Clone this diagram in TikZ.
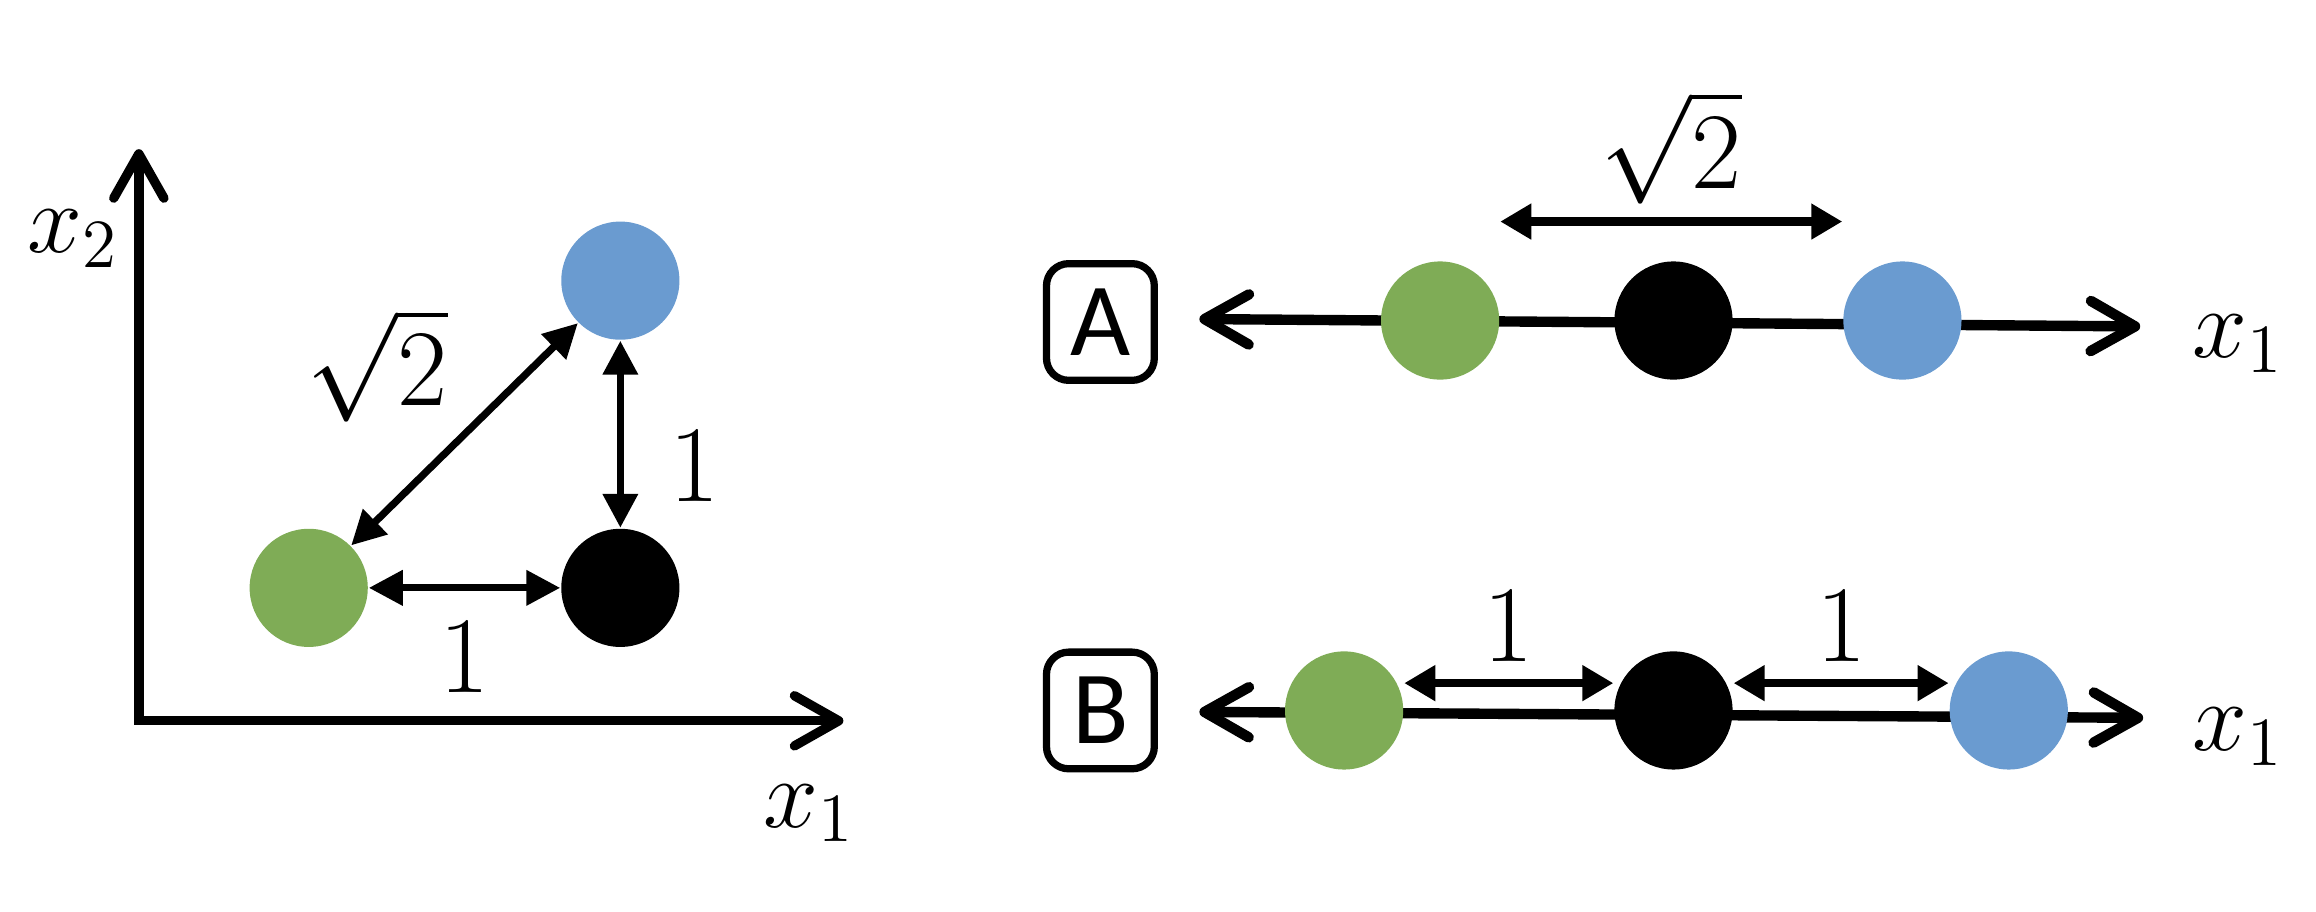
\RequirePackage{fix-cm}
\documentclass[tikz,border=0pt]{standalone}
\usepackage{fontspec}
\usepackage{xcolor}
\usepackage{tikz}
\usetikzlibrary{positioning,arrows.meta,calc}
\newfontfamily\tagfont{Carlito}
\definecolor{dotgreen}{RGB}{127,172,86}
\definecolor{dotblue}{RGB}{106,155,208}

\begin{document}
\begin{tikzpicture}[x=0.1mm,y=-0.1mm,
    dot/.style={circle,minimum size=8mm,inner sep=0pt},
    axisarrow/.style={line width=1.8pt,{Straight Barb[length=3mm,width=3.4mm,round]}-{Straight Barb[length=3mm,width=3.4mm,round]}},
    dist/.style={line width=1.4pt,{Triangle[length=2.3mm,width=2.3mm]}-{Triangle[length=2.3mm,width=2.3mm]}},
    gap/.style={line width=1.6pt,{Triangle[length=2.1mm,width=2.3mm]}-{Triangle[length=2.1mm,width=2.3mm]}},
    num/.style={inner sep=0pt,font=\fontsize{21}{25}\selectfont},
    axlabel/.style={inner sep=0pt,anchor=base west,font=\fontsize{19}{23}\selectfont},
    tag/.style={draw,line width=1.4pt,rounded corners=1.5mm,minimum width=7.3mm,minimum height=7.9mm,inner sep=0pt,font=\tagfont\fontsize{20}{24}\selectfont}]
    \useasboundingbox (0,0) rectangle (1568,617);

    % Plane
    \coordinate (O) at (94,488);
    \coordinate (ytip) at (94,101);
    \coordinate (xtip) at (571,488);
    \draw[axisarrow] (ytip) -- (O) -- (xtip);
    \node[axlabel] (x2) at (18,171) {$x_2$};
    \node[axlabel] (x1) at (516,560) {$x_1$};

    \node[dot,fill=dotblue] (b) at (420,190) {};
    \node[dot,fill=dotgreen] (g) at (209,398) {};
    \node[dot,fill=black] (k) at (420,398) {};

    \draw[dist] (g.east) -- (k.west) node[num,midway,below=2.1mm] {$1$};
    \draw[dist] (b.south) -- (k.north) node[num,pos=0.67,right=3.1mm] {$1$};
    \draw[dist] (g.45) -- (b.-135) node[num,midway,above left=0.6mm and 0.9mm] {$\sqrt{2}$};

    % Line A
    \node[tag] (tA) at (745,218) {A};
    \coordinate (aleft) at (812,216);
    \coordinate (aright) at (1449,221);
    \draw[axisarrow,line width=2pt] (aleft) -- (aright);
    \node[axlabel] (xA) at (1484,242) {$x_1$};

    \node[dot,fill=dotgreen] (gA) at (975,217) {};
    \node[dot,fill=black] (kA) at (1133,217) {};
    \node[dot,fill=dotblue] (bA) at (1288,217) {};

    \draw[gap] ([yshift=6.7mm]gA.east) -- ([yshift=6.7mm]bA.west) node[num,midway,above=0.9mm] {$\sqrt{2}$};

    % Line B
    \node[tag] (tB) at (745,481) {B};
    \coordinate (bleft) at (812,482);
    \coordinate (bright) at (1451,486);
    \draw[axisarrow,line width=2pt] (bleft) -- (bright);
    \node[axlabel] (xB) at (1484,508) {$x_1$};

    \node[dot,fill=dotgreen] (gB) at (910,481) {};
    \node[dot,fill=black] (kB) at (1133,481) {};
    \node[dot,fill=dotblue] (bB) at (1360,481) {};

    \draw[gap] ([yshift=1.85mm]gB.east) -- ([yshift=1.85mm]kB.west) node[num,midway,above=1.2mm] {$1$};
    \draw[gap] ([yshift=1.85mm]kB.east) -- ([yshift=1.85mm]bB.west) node[num,midway,above=1.2mm] {$1$};
\end{tikzpicture}
\end{document}
